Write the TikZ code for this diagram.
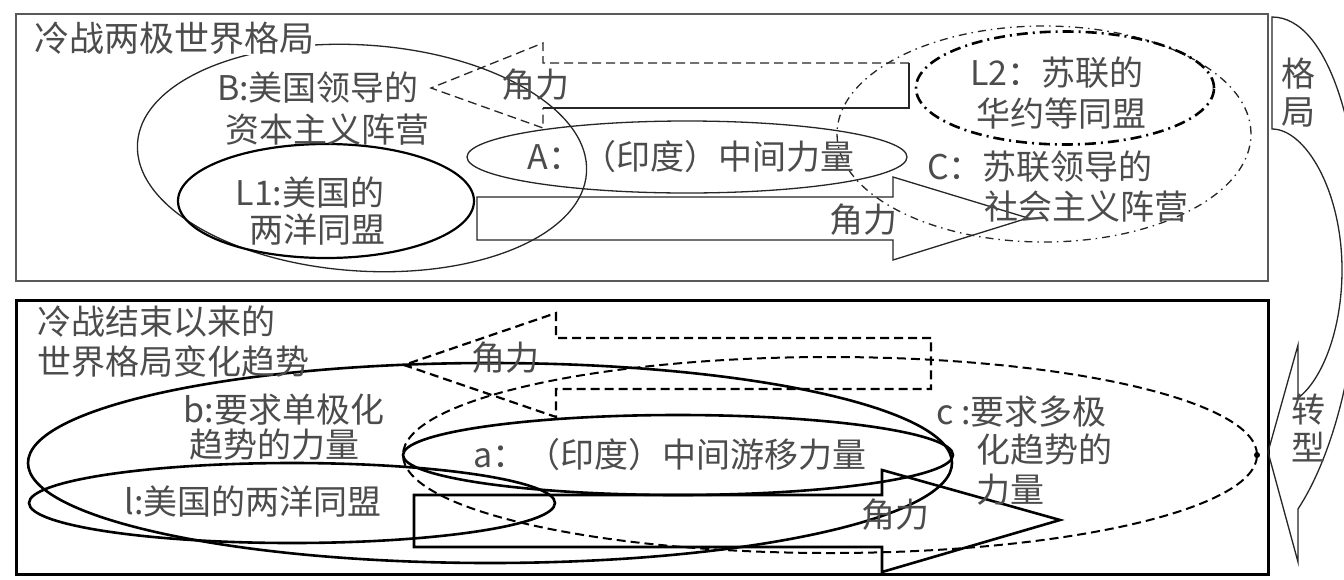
\documentclass[tikz,border=0pt]{standalone}
\usepackage{fontspec}
\newfontfamily\cjkfont{Noto Sans CJK SC}
\usetikzlibrary{shapes.geometric}
\begin{document}
\begin{tikzpicture}[x=1pt,y=-1pt,
  txt/.style={font=\cjkfont\fontsize{34}{40}\selectfont, text=black!70, inner sep=0pt},
  ttl/.style={font=\cjkfont\fontsize{35}{40}\selectfont, text=black!70, inner sep=1pt},
  ell/.style={ellipse, draw, inner sep=0pt, outer sep=0pt},
  thinln/.style={line width=1.3pt, draw=black!85},
  thickln/.style={line width=2.6pt, draw=black},
  dashdotln/.style={dash pattern=on 8pt off 5pt on 1.5pt off 5pt},
  dashln/.style={dash pattern=on 9pt off 5pt}
]
\useasboundingbox (0,0) rectangle (1344,579);
\fill[white] (0,0) rectangle (1344,579);

% ===== top panel =====
\node[draw=black!65, line width=1.6pt, minimum width=1252pt, minimum height=267pt, inner sep=0pt, anchor=north west] (topbox) at (15,13) {};

\node[ell, thinln, minimum width=450pt, minimum height=226pt, rotate=-3.8] (Bell) at (362,158) {};
\node[ell, line width=2.2pt, minimum width=296pt, minimum height=114pt] (L1ell) at (326,201) {};
\node[ell, thinln, minimum width=440pt, minimum height=72pt] (Aell) at (687,157) {};
\node[ell, thinln, dashdotln, minimum width=414pt, minimum height=216pt] (Cell) at (1044,134) {};
\node[ell, line width=2.6pt, dash pattern=on 11pt off 5pt on 2pt off 5pt, minimum width=298pt, minimum height=113pt] (L2ell) at (1065,88) {};

% left-pointing arrow (top)
\draw[thinln, dashln] (909,63) -- (543,63) -- (543,43) -- (431,88) -- (543,128) -- (543,108);
\draw[thinln] (543,108) -- (909,108) -- (909,63);
% right-pointing arrow (top)
\draw[thinln] (477,197) -- (893,197) -- (893,177) -- (1028,218) -- (893,260) -- (893,240) -- (477,240) -- cycle;

\node[ttl, fill=white, anchor=west] (title1) at (33,38) {冷战两极世界格局};
\node[txt] (Bt1) at (318,88) {B:美国领导的};
\node[txt] (Bt2) at (327,130) {资本主义阵营};
\node[txt] (L1t1) at (310,193) {L1:美国的};
\node[txt] (L1t2) at (317,230) {两洋同盟};
\node[txt] (At) at (691,157) {A：（印度）中间力量};
\node[txt] (L2t1) at (1057,73) {L2：苏联的};
\node[txt] (L2t2) at (1061,114) {华约等同盟};
\node[txt] (Ct1) at (1040,167) {C：苏联领导的};
\node[txt] (Ct2) at (1086,207) {社会主义阵营};
\node[txt] (jl1) at (535,85) {角力};
\node[txt] (jl2) at (863,220) {角力};

% ===== bottom panel =====
\node[draw=black, line width=3pt, minimum width=1252pt, minimum height=274pt, inner sep=0pt, anchor=north west] (botbox) at (15,299) {};

\node[ell, thickln, minimum width=924pt, minimum height=200pt] (bell) at (490,463) {};
\node[ell, thickln, minimum width=526pt, minimum height=80pt] (lell) at (292,503) {};
\node[ell, thickln, minimum width=550pt, minimum height=80pt] (aell) at (678,455) {};
\node[ell, line width=2pt, dashln, minimum width=854pt, minimum height=196pt] (cell) at (830,455) {};
\fill (1257,455) circle[radius=3pt];

% left-pointing dashed arrow (bottom)
\draw[line width=2.2pt, dashln] (931,338) -- (556,338) -- (556,313) -- (404,365) -- (556,417) -- (556,389) -- (931,389) -- cycle;
% right-pointing arrow (bottom)
\draw[thickln] (414,495) -- (882,495) -- (882,470) -- (1060,520) -- (882,572) -- (882,547) -- (414,547) -- cycle;

\node[txt, anchor=west] (title2a) at (37,322) {冷战结束以来的};
\node[txt, anchor=west] (title2b) at (37,362) {世界格局变化趋势};
\node[txt] (bt1) at (284,410) {b:要求单极化};
\node[txt] (bt2) at (274,445) {趋势的力量};
\node[txt] (lt) at (253,502) {l:美国的两洋同盟};
\node[txt] (at) at (670,455) {a：（印度）中间游移力量};
\node[txt, anchor=west] (ct1) at (936,412) {c :要求多极};
\node[txt, anchor=west] (ct2) at (976,450) {化趋势的};
\node[txt, anchor=west] (ct3) at (976,490) {力量};
\node[txt] (jl3) at (505,358) {角力};
\node[txt] (jl4) at (895,515) {角力};

% ===== right curved arrow =====
\draw[thinln] (1272,129) -- (1272,17)
  .. controls (1330,17) and (1362,140) .. (1360,250)
  .. controls (1358,370) and (1330,460) .. (1298,509)
  -- (1298,562) -- (1268,452) -- (1298,345) -- (1298,398)
  .. controls (1322,380) and (1342,330) .. (1342,270)
  .. controls (1342,190) and (1305,129) .. cycle;
\node[txt] (ge) at (1298,74) {格};
\node[txt] (ju) at (1298,112) {局};
\node[txt] (zh) at (1308,410) {转};
\node[txt] (xi) at (1308,447) {型};
\end{tikzpicture}
\end{document}
